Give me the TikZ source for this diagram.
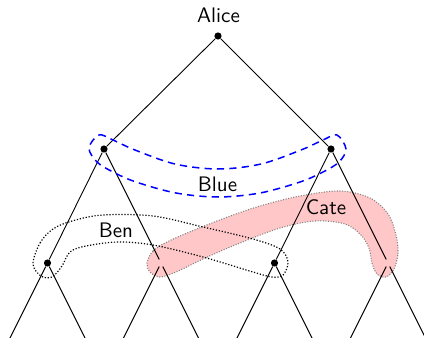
\documentclass[tikz,border=0pt]{standalone}
\usetikzlibrary{calc}
\begin{document}
\begin{tikzpicture}[x=0.5pt,y=-0.5pt,
  edge/.style={line width=0.45pt,black},
  vert/.style={circle,fill=black,inner sep=0pt,minimum size=3.6pt},
  lbl/.style={font=\sffamily\fontsize{10.5}{12}\selectfont,anchor=base,inner sep=0pt},
  blueset/.style={blue,line width=0.75pt,dash pattern=on 3.6pt off 2.6pt},
  benset/.style={black,line width=0.6pt,dash pattern=on 0.6pt off 0.9pt},
  cateset/.style={fill=red!22,draw=gray,line width=0.55pt,dash pattern=on 0.5pt off 0.8pt}]
\useasboundingbox (0,0) rectangle (424,338);
\clip (0,0) rectangle (424,338);

% vertices of the game tree
\node[vert] (r)  at (218,36) {};
\node[vert] (a)  at (104,149) {};
\node[vert] (b)  at (331,149) {};
\node[vert] (aa) at (47.5,263) {};
\node[vert] (ab) at (161,263) {};
\node[vert] (ba) at (274.5,263) {};
\node[vert] (bb) at (388,263) {};
\foreach \n/\x in {aa/47.5,ab/161,ba/274.5,bb/388}{
  \coordinate (\n l) at (\x-57,377);
  \coordinate (\n r) at (\x+57,377);
}

% Cate's information set (filled band behind the tree)
\path[cateset] plot[smooth cycle,tension=0.55] coordinates {
  (147,263) (153,251) (167,242) (192,231) (225,218) (260,206) (300,196)
  (340,191) (370,198) (388,214) (396,235) (398,253) (394,269) (386,277)
  (377,274) (372,263) (369,248) (361,235) (345,224) (315,221) (280,228)
  (240,243) (205,258) (176,272) (160,277) (150,272)};

% edges
\draw[edge] (r) -- (a);
\draw[edge] (r) -- (b);
\draw[edge] (a) -- (aa);
\draw[edge] (a) -- (ab);
\draw[edge] (b) -- (ba);
\draw[edge] (b) -- (bb);
\foreach \n in {aa,ab,ba,bb}{
  \draw[edge] (\n) -- (\n l);
  \draw[edge] (\n) -- (\n r);
}

% Ben's information set
\draw[benset] plot[smooth cycle,tension=0.55] coordinates {
  (33,264) (40,243) (53,229) (72,221) (103,215) (153,216) (203,227)
  (253,239) (280,249) (288,262) (283,275) (272,277) (253,272) (203,257)
  (153,245) (118,242) (86,246) (70,252) (62,266) (52,277) (41,276)};

% Blue's information set
\draw[blueset] plot[smooth cycle,tension=0.55] coordinates {
  (89,148) (99,135) (113,140) (135,150) (175,164) (218,169) (261,164)
  (301,150) (323,140) (337,135) (346,149) (339,162) (323,172) (300,182)
  (260,193) (218,197) (176,193) (136,182) (113,172) (97,162)};

% labels
\node[lbl] (alice) at (218.5,22.6) {Alice};
\node[lbl] (blue)  at (217.5,191) {Blue};
\node[lbl] (ben)   at (116,237) {Ben};
\node[lbl] (cate)  at (326,214) {Cate};
\end{tikzpicture}
\end{document}
